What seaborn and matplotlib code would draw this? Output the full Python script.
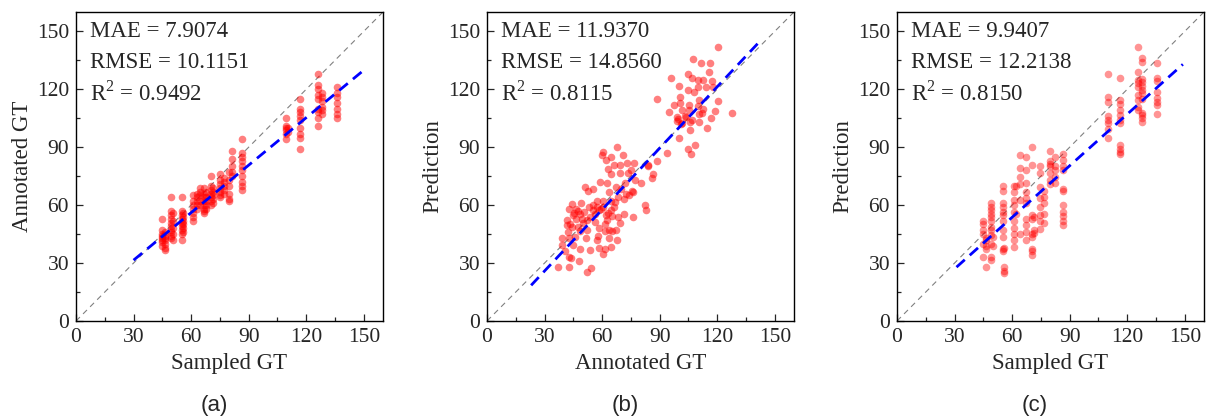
import matplotlib
matplotlib.use("Agg")
import matplotlib.pyplot as plt
from matplotlib.ticker import MultipleLocator
import numpy as np
import pandas as pd
import seaborn as sns

# (a) sampled GT (columns) vs annotated GT
a_cols = [45, 46.5, 49.5, 50.5, 55, 56, 61, 63, 64.5, 66.5, 68, 70.5, 71.5,
          75, 77, 79.5, 81.5, 86.5, 109.5, 110.5, 116.5, 126, 128, 136]
a_vals = [
    [53, 47, 45, 44, 43, 42, 41, 39],
    [46, 44, 43, 42, 40, 38, 37],
    [64, 57, 55, 53, 51, 49, 47, 46, 44, 43],
    [56, 52, 48, 45, 42],
    [64, 57, 55, 53, 51, 49, 47, 45, 42],
    [56, 54, 52, 50, 48, 46],
    [65, 62, 60, 58, 56, 54, 52],
    [66, 64, 62, 60, 58],
    [69, 67, 65, 62, 60],
    [69, 66, 64, 62, 60, 58, 57, 56],
    [67, 64, 62, 60, 58],
    [75, 70, 68, 66, 64, 62, 60],
    [69, 67, 65, 63, 61],
    [76, 73, 71, 69, 67, 65, 64],
    [74, 72, 70, 68, 66],
    [77, 73, 70, 66, 63, 62],
    [88, 84, 80, 77, 75],
    [94, 87, 85, 83, 80, 78, 75, 72, 70, 68],
    [105, 101, 100, 99, 97, 94],
    [100, 98],
    [115, 110, 108, 106, 104, 100, 97, 95, 89],
    [128, 122, 120, 117, 115, 110, 108, 105, 101],
    [118, 116, 114, 111, 109, 107],
    [121, 118, 116, 113, 110, 107, 105],
]

# (b) annotated GT vs prediction
b_x = [120.6, 107.5, 116.2, 111.7, 115.7, 104.8, 95.7, 106.8, 109.8, 112.8,
       117.4, 100.2, 109.8, 114.1, 118.0, 104.8, 107.9, 100.7, 88.7, 110.7,
       120.6, 100.4, 105.4, 110.0, 101.4, 105.3, 118.8, 94.7, 111.9, 110.5,
       127.9, 98.8, 103.0, 116.6, 99.0, 105.8, 110.7, 101.8, 114.5, 105.8,
       100.2, 108.4, 104.8, 94.0, 106.1,
       88.4, 67.7, 60.6, 60.0, 70.8, 64.7, 62.1, 69.3, 73.1, 76.6,
       66.1, 83.7, 63.0, 75.3, 73.3, 69.3, 64.7, 86.7, 85.8, 58.8,
       77.1, 62.3, 80.0, 71.7, 51.0, 55.3, 67.0, 75.7, 69.6, 63.5,
       74.0, 52.4, 68.2, 71.3, 60.4, 64.6, 49.1, 57.1, 53.1, 60.6,
       82.3, 44.4, 42.8, 46.5, 55.0, 58.6, 64.7, 83.0, 48.7, 56.2,
       71.3, 62.1, 65.1, 68.2, 75.9, 46.6, 41.8, 51.9, 62.3, 69.2,
       41.8, 44.4, 47.5, 58.3, 63.5, 67.0, 42.1, 48.7, 52.2, 61.3,
       65.3, 42.5, 39.0, 45.8, 51.5, 57.1, 63.5, 67.9, 39.0, 44.7,
       48.7, 58.3, 61.3, 64.4, 40.9, 53.6, 60.4, 42.5, 43.8, 48.0,
       37.1, 42.8, 54.0, 51.9, 76.0, 84.0, 45.5, 50.0, 57.5, 66.0,
       99.5, 101.0, 103.5, 107.0, 112.5, 97.5, 45.0, 47.5, 50.5, 53.5,
       55.5, 59.5, 63.0, 43.5, 49.5, 56.5, 66.5, 72.5, 58.0, 61.5]
b_y = [141.7, 135.6, 133.7, 133.7, 129.1, 127.9, 126.0, 126.0, 124.8, 124.8,
       124.4, 121.7, 121.3, 121.3, 121.0, 119.6, 118.7, 116.1, 114.9, 114.4,
       113.7, 112.7, 112.1, 111.3, 109.2, 109.2, 108.7, 108.0, 107.5, 107.1,
       107.8, 105.8, 106.3, 104.9, 103.7, 103.2, 103.2, 102.6, 100.1, 98.8,
       95.0, 91.1, 89.0, 87.1, 86.7,
       82.9, 90.2, 87.6, 85.7, 85.9, 85.0, 83.6, 81.0, 81.6, 81.6,
       81.0, 80.2, 78.5, 78.1, 76.4, 76.4, 76.0, 76.0, 73.8, 72.1,
       72.9, 71.5, 71.5, 71.2, 69.5, 68.6, 69.5, 67.4, 68.6, 66.9,
       65.1, 67.2, 64.3, 63.4, 62.2, 62.2, 61.2, 59.1, 58.8, 59.1,
       60.1, 60.8, 58.2, 58.2, 57.4, 57.4, 57.4, 57.4, 55.6, 55.6,
       55.6, 54.8, 54.3, 53.6, 53.9, 53.0, 52.2, 52.2, 52.2, 50.8,
       49.6, 48.7, 48.7, 47.9, 47.3, 47.0, 46.1, 46.7, 47.0, 46.7,
       46.7, 43.2, 43.2, 43.5, 43.2, 42.2, 43.2, 41.8, 39.2, 39.2,
       37.5, 38.0, 37.5, 38.4, 36.3, 36.6, 34.6, 33.2, 32.8, 31.1,
       28.0, 28.0, 27.5, 25.4, 67.0, 81.0, 56.0, 50.5, 62.0, 59.0,
       104.5, 102.0, 105.5, 104.0, 110.0, 112.0, 55.0, 57.0, 56.5, 54.0,
       60.0, 58.0, 56.0, 50.0, 53.0, 51.5, 61.5, 66.0, 44.0, 50.0]

# (c) sampled GT (columns) vs prediction
c_cols = [44.9, 46.6, 48.9, 50, 55, 56, 61, 62, 64, 67.2, 70.1, 71.5,
          74.5, 76.6, 79.7, 82.1, 86.3, 110, 116.2, 125.5, 127.7, 135.4]
c_vals = [
    [52, 50, 47, 45, 40, 33],
    [43, 42, 39, 37.5, 28],
    [61, 59, 57.5, 55.5, 54, 52, 48.5, 47, 44.5, 40, 33, 31.5],
    [43.5, 39],
    [70, 67.5, 61, 59, 56.5, 55, 52, 47, 43.5, 37.5, 36.5],
    [38, 28, 26, 25],
    [70, 67, 62.5, 60, 56.5, 52, 48, 45, 42, 38.5],
    [70, 55.5],
    [86, 79, 74.5, 71, 62.5, 45],
    [85, 78, 71.5, 67, 63.5, 61, 53, 49.5, 46, 42],
    [90, 81, 55, 53, 45, 43.5, 37.5, 36, 34],
    [54, 47, 45.5],
    [80.5, 76.5, 69.5, 63.5, 59, 55, 52, 47.5],
    [67.5, 64, 61, 55.5, 51],
    [88, 83, 81.5, 80, 76.5, 73, 71],
    [85, 80.5, 78, 74.5, 71.5],
    [86.5, 83.5, 80, 78, 68.5, 67.5, 60, 56.5, 54.5, 52, 49.5],
    [128, 116, 113.5, 106, 104, 102.5, 99.5, 95],
    [126, 114.5, 112.5, 109, 106.5, 104, 102.5, 91, 89, 87.5, 86.5],
    [142, 129, 125, 123, 121, 117, 114.5, 111, 109],
    [136, 134, 125.5, 124, 121.5, 119.5, 118, 115, 107.5, 106.5, 105, 103],
    [133.5, 126, 124.5, 118.5, 115.5, 113.5, 112, 107],
]

# fitted lines: slope, intercept, x range
fit_a = (0.82, 6.9, 30, 150)
fit_b = (1.06, -5.9, 23, 142)
fit_c = (0.89, 0.3, 31, 149)

metrics_a = ("7.9074", "10.1151", "0.9492")
metrics_b = ("11.9370", "14.8560", "0.8115")
metrics_c = ("9.9407", "12.2138", "0.8150")

x_labels = ["Sampled GT", "Annotated GT", "Sampled GT"]
y_labels = ["Annotated GT", "Prediction", "Prediction"]
panel_tags = ["(a)", "(b)", "(c)"]


def columns_to_frame(cols, vals):
    xs, ys = [], []
    for x, col in zip(cols, vals):
        xs += [x] * len(col)
        ys += col
    return pd.DataFrame({"x": xs, "y": ys})


sns.set_style("ticks")
plt.rcParams["font.family"] = ["Liberation Serif", "DejaVu Serif"]
plt.rcParams["mathtext.fontset"] = "custom"
plt.rcParams["mathtext.rm"] = "Liberation Serif"
plt.rcParams["xtick.direction"] = "in"
plt.rcParams["ytick.direction"] = "in"

frames = [
    columns_to_frame(a_cols, a_vals),
    pd.DataFrame({"x": b_x, "y": b_y}),
    columns_to_frame(c_cols, c_vals),
]
fits = [fit_a, fit_b, fit_c]
metrics = [metrics_a, metrics_b, metrics_c]
alphas = [0.5, 0.5, 0.42]

fig = plt.figure(figsize=(12.08, 4.19), dpi=100)
lefts = [76, 487, 897]
for i in range(3):
    ax = fig.add_axes([lefts[i] / 1208, 98 / 419, 307 / 1208, 309 / 419])
    lim = np.array([0, 160])
    ax.plot(lim, lim, color="gray", lw=0.8, ls=(0, (5, 4)), zorder=1)
    sns.scatterplot(data=frames[i], x="x", y="y", ax=ax, color="red",
                    alpha=alphas[i], s=30, linewidth=0, zorder=2)
    slope, inter, x0, x1 = fits[i]
    fx = np.array([x0, x1])
    ax.plot(fx, slope * fx + inter, color="blue", lw=2.0,
            ls=(0, (4, 2.4)), zorder=3)

    ax.set_xlim(0, 160)
    ax.set_ylim(0, 160)
    ax.xaxis.set_major_locator(MultipleLocator(30))
    ax.yaxis.set_major_locator(MultipleLocator(30))
    ax.xaxis.set_minor_locator(MultipleLocator(15))
    ax.yaxis.set_minor_locator(MultipleLocator(15))
    ax.tick_params(which="major", length=5, width=0.9, labelsize=15.5, pad=5)
    ax.tick_params(which="minor", length=3, width=0.9)
    for sp in ax.spines.values():
        sp.set_linewidth(1.0)
        sp.set_color("black")
    ax.set_xlabel(x_labels[i], fontsize=16.5, labelpad=4)
    ax.set_ylabel(y_labels[i], fontsize=16.5, labelpad=3)

    mae, rmse, r2 = metrics[i]
    ax.text(0.046, 0.918, f"MAE = {mae}", transform=ax.transAxes,
            fontsize=16.5, va="baseline")
    ax.text(0.046, 0.820, f"RMSE = {rmse}", transform=ax.transAxes,
            fontsize=16.5, va="baseline")
    ax.text(0.046, 0.712, f"R$^2$ = {r2}", transform=ax.transAxes,
            fontsize=16.5, va="baseline")

    fig.text((lefts[i] + 138) / 1208, 1 - 405 / 419, panel_tags[i],
             fontsize=16, family=["Liberation Sans", "DejaVu Sans"],
             ha="center", va="center")

fig.savefig("out.png", dpi=100)
